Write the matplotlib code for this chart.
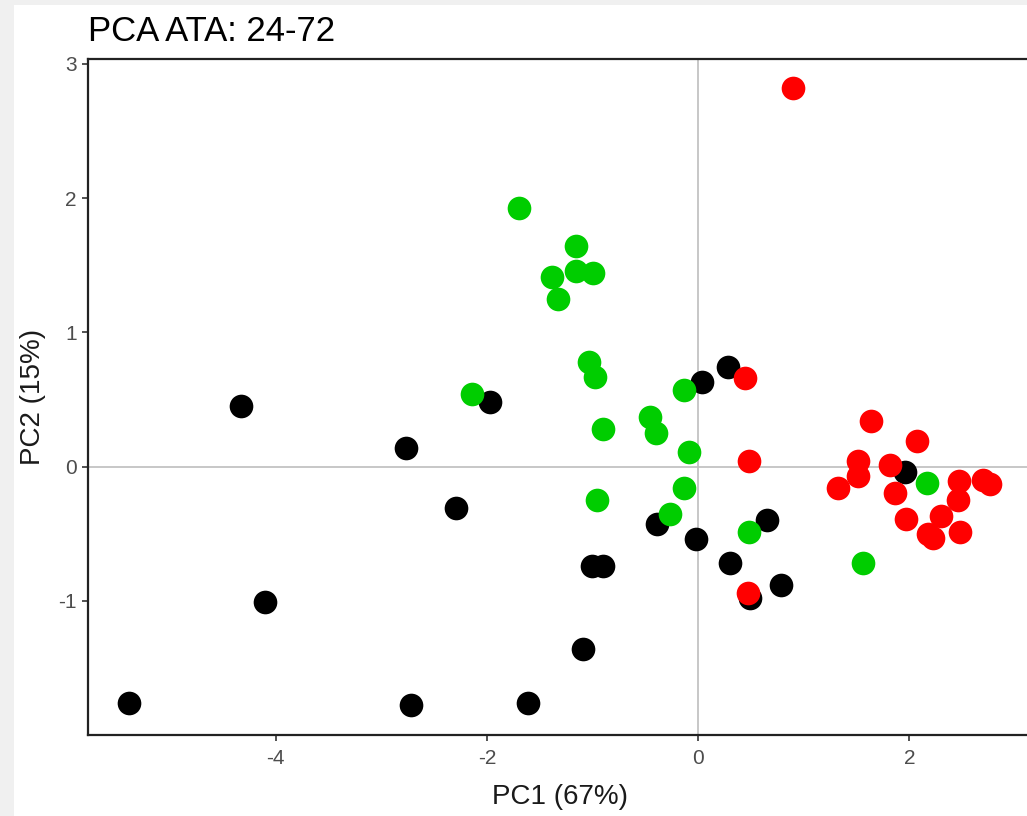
import matplotlib
matplotlib.use('Agg')
import matplotlib.pyplot as plt
from matplotlib.patches import Rectangle

plt.rcParams['font.family'] = ['Liberation Sans', 'DejaVu Sans']

# PCA scores, one list pair per group
black_x = [-5.39, -4.33, -4.10, -2.77, -2.72, -2.29, -1.97, -1.61, -1.09, -1.01,
           -0.90, -0.39, -0.02, 0.04, 0.28, 0.30, 0.49, 0.65, 0.78, 1.96]
black_y = [-1.76, 0.45, -1.01, 0.14, -1.78, -0.31, 0.48, -1.76, -1.36, -0.74,
           -0.74, -0.43, -0.54, 0.63, 0.74, -0.72, -0.98, -0.40, -0.88, -0.04]

green_x = [-1.70, -1.16, -1.16, -1.38, -1.33, -1.00, -1.03, -0.98, -2.14, -0.90,
           -0.46, -0.40, -0.13, -0.09, -0.96, -0.13, -0.27, 0.48, 1.56, 2.17]
green_y = [1.93, 1.64, 1.46, 1.41, 1.25, 1.44, 0.78, 0.67, 0.54, 0.28,
           0.37, 0.25, 0.57, 0.11, -0.25, -0.16, -0.35, -0.49, -0.72, -0.12]

red_x = [0.90, 0.44, 0.48, 0.47, 1.64, 2.07, 1.51, 1.51, 1.32, 1.82,
         1.86, 1.97, 2.30, 2.18, 2.22, 2.46, 2.47, 2.48, 2.70, 2.76]
red_y = [2.82, 0.66, 0.04, -0.94, 0.34, 0.19, 0.04, -0.07, -0.16, 0.01,
         -0.20, -0.39, -0.37, -0.50, -0.53, -0.25, -0.11, -0.49, -0.10, -0.13]

W, H = 1027, 816
fig = plt.figure(figsize=(W / 100, H / 100), dpi=100, facecolor='#f0f0f0')
# white plot background inside the grey window frame
fig.patches.append(Rectangle((14 / W, 0), 1, 1 - 5 / H, transform=fig.transFigure,
                             facecolor='white', edgecolor='none', zorder=-10))

ax = fig.add_axes([88 / W, 1 - 735 / H, (1033 - 88) / W, (735 - 59) / H])
ax.set_zorder(1)
ax.set_facecolor('white')

ax.axhline(0, color='#bebebe', lw=1.2, zorder=1)
ax.axvline(0, color='#bebebe', lw=1.2, zorder=1)

s = 290
ax.scatter(black_x, black_y, s=s, color='black', linewidths=0, zorder=3)
ax.scatter(green_x, green_y, s=s, color='#00cd00', linewidths=0, zorder=3)
ax.scatter(red_x, red_y, s=s, color='#ff0000', linewidths=0, zorder=3)

ax.set_xlim(-5.777, 3.17)
ax.set_ylim(-2.0, 3.037)
ax.set_xticks([-4, -2, 0, 2])
ax.set_yticks([-1, 0, 1, 2, 3])
ax.set_xticklabels(['-4', '-2', '0', '2'])
ax.set_yticklabels(['-1', '0', '1', '2', '3'])

for sp in ax.spines.values():
    sp.set_linewidth(1.6)
    sp.set_color('#222222')
ax.tick_params(axis='both', length=4, width=1.2, color='#333333',
               labelcolor='#4d4d4d', labelsize=15)
ax.tick_params(axis='x', pad=6)
ax.tick_params(axis='y', pad=4)

fig.text(88 / W, 1 - 28 / H, 'PCA ATA: 24-72', fontsize=25, color='black',
         ha='left', va='center_baseline')
fig.text(560 / W, 1 - 797 / H, 'PC1 (67%)', fontsize=20, color='#1a1a1a',
         ha='center', va='center')
fig.text(33 / W, 1 - 397 / H, 'PC2 (15%)', fontsize=20, color='#1a1a1a',
         ha='center', va='center', rotation=90)

fig.savefig('out.png', dpi=100, facecolor=fig.get_facecolor())
